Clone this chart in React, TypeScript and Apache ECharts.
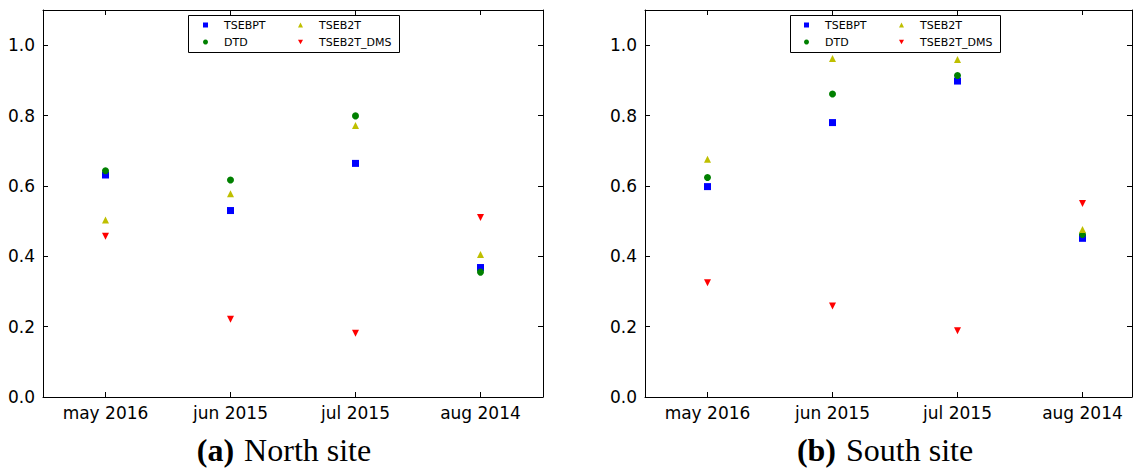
import React, { useEffect, useRef } from "react";
import * as echarts from "echarts";

const categories = ["may 2016", "jun 2015", "jul 2015", "aug 2014"];
const yTicks = [0, 0.2, 0.4, 0.6, 0.8, 1.0];

const northTSEBPT = [0.631, 0.53, 0.664, 0.368];
const northDTD = [0.643, 0.617, 0.799, 0.355];
const northTSEB2T = [0.503, 0.578, 0.772, 0.405];
const northDMS = [0.457, 0.221, 0.181, 0.51];

const southTSEBPT = [0.598, 0.78, 0.898, 0.451];
const southDTD = [0.624, 0.861, 0.914, 0.462];
const southTSEB2T = [0.676, 0.962, 0.959, 0.476];
const southDMS = [0.325, 0.259, 0.188, 0.55];

const seriesDefs = [
  { name: "TSEBPT", color: "#0000ff", symbol: "rect", icon: "rect", rotate: 0, size: 7 },
  { name: "DTD", color: "#008000", symbol: "circle", icon: "circle", rotate: 0, size: 7 },
  { name: "TSEB2T", color: "#bfbf00", symbol: "triangle", icon: "triangle", rotate: 0, size: 7 },
  { name: "TSEB2T_DMS", color: "#ff0000", symbol: "triangle", icon: "path://M0,0L10,0L5,9Z", rotate: 180, size: 7 },
];

const FONT = "DejaVu Sans";

export default function App() {
  const ref = useRef<HTMLDivElement>(null);
  useEffect(() => {
    if (!ref.current) return;
    const chart = echarts.init(ref.current, null, { renderer: "svg" });

    const grids = [
      { left: 43, top: 10, width: 500, height: 387 },
      { left: 645, top: 10, width: 487, height: 387 },
    ];
    const xMax = [3.5, -0.5 + 487 / 125];

    const xAxes: any[] = [];
    const yAxes: any[] = [];
    [0, 1].forEach((g) => {
      const base = {
        type: "value",
        gridIndex: g,
        min: -0.5,
        max: xMax[g],
        splitLine: { show: false },
        axisLine: { show: true, onZero: false, lineStyle: { color: "#000", width: 1 } },
        axisTick: { show: true, inside: true, length: 5, customValues: [0, 1, 2, 3], lineStyle: { color: "#000" } },
      };
      xAxes.push({
        ...base,
        position: "bottom",
        axisLabel: {
          show: true,
          customValues: [0, 1, 2, 3],
          formatter: (v: number) => categories[Math.round(v)] ?? "",
          color: "#000",
          fontFamily: FONT,
          fontSize: 17,
          margin: 7,
        },
      });
      xAxes.push({ ...base, position: "top", axisLabel: { show: false } });
      const ybase = {
        type: "value",
        gridIndex: g,
        min: 0,
        max: 1.1,
        splitLine: { show: false },
        axisLine: { show: true, onZero: false, lineStyle: { color: "#000", width: 1 } },
        axisTick: { show: true, inside: true, length: 5, customValues: yTicks, lineStyle: { color: "#000" } },
      };
      yAxes.push({
        ...ybase,
        position: "left",
        axisLabel: {
          show: true,
          customValues: yTicks,
          formatter: (v: number) => v.toFixed(1),
          color: "#000",
          fontFamily: FONT,
          fontSize: 17,
          margin: 8,
        },
      });
      yAxes.push({ ...ybase, position: "right", axisLabel: { show: false } });
    });

    const north = [northTSEBPT, northDTD, northTSEB2T, northDMS];
    const south = [southTSEBPT, southDTD, southTSEB2T, southDMS];
    const series: any[] = [];
    [north, south].forEach((set, g) => {
      seriesDefs.forEach((d, i) => {
        series.push({
          type: "scatter",
          name: d.name,
          xAxisIndex: g * 2,
          yAxisIndex: g * 2,
          symbol: d.symbol,
          symbolRotate: d.rotate,
          symbolSize: d.size,
          itemStyle: { color: d.color, opacity: 1 },
          data: set[i].map((v, k) => [k, v]),
          z: 2,
        });
      });
    });

    const legendCommon = {
      orient: "vertical",
      padding: 0,
      itemWidth: 5,
      itemHeight: 5,
      itemGap: 3,
      selectedMode: false,
      z: 10,
      textStyle: { fontFamily: FONT, fontSize: 11, color: "#000", lineHeight: 14, padding: [0, 0, 0, 11] },
    };
    const legIcon = (name: string) => {
      const d = seriesDefs.find((s) => s.name === name)!;
      return { name, icon: d.icon, itemStyle: { color: d.color } };
    };
    const legends = [
      { ...legendCommon, left: 203, top: 18, data: [legIcon("TSEBPT"), legIcon("DTD")] },
      { ...legendCommon, left: 298, top: 18, data: [legIcon("TSEB2T"), legIcon("TSEB2T_DMS")] },
      { ...legendCommon, left: 804, top: 18, data: [legIcon("TSEBPT"), legIcon("DTD")] },
      { ...legendCommon, left: 899, top: 18, data: [legIcon("TSEB2T"), legIcon("TSEB2T_DMS")] },
    ];

    const caption = (cx: number, letter: string, rest: string) => ({
      type: "text",
      x: cx,
      y: 450,
      style: {
        text: `{b|(${letter})}{g|}{n|${rest}}`,
        align: "center",
        verticalAlign: "middle",
        rich: {
          b: { fontFamily: "Liberation Serif", fontSize: 32, fontWeight: "bold", fill: "#000" },
          g: { width: 10 },
          n: { fontFamily: "Liberation Serif", fontSize: 32, fill: "#000" },
        },
      },
    });

    chart.setOption({
      animation: false,
      backgroundColor: "#fff",
      grid: grids,
      xAxis: xAxes,
      yAxis: yAxes,
      legend: legends,
      series,
      graphic: [
        { type: "rect", shape: { x: 188.5, y: 15.5, width: 211, height: 37 }, style: { fill: "#fff", stroke: "#000", lineWidth: 1 }, z: 5 },
        { type: "rect", shape: { x: 790.5, y: 15.5, width: 210, height: 37 }, style: { fill: "#fff", stroke: "#000", lineWidth: 1 }, z: 5 },
        caption(284, "a", "North site"),
        caption(885, "b", "South site"),
      ],
    });
    return () => chart.dispose();
  }, []);
  return <div ref={ref} style={{ position: "fixed", left: 0, top: 0, width: 1138, height: 470 }} />;
}
